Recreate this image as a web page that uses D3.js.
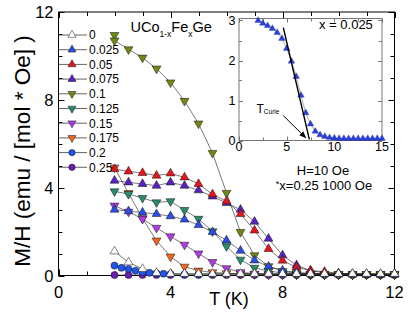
<!DOCTYPE html>
<html>
<head>
<meta charset="utf-8">
<script src="https://cdn.jsdelivr.net/npm/d3@7"></script>
<style>
body { margin: 0; background: #fff; }
svg { display: block; font-family: "Liberation Sans", Arial, Helvetica, sans-serif; }
</style>
</head>
<body>
<svg id="chart" width="415" height="318"></svg>
<script>
// temperatures (K)
const temps = [2,2.5,3,3.5,4,4.5,5,5.5,6,6.5,7,7.5,8,8.5,9,9.5,10,10.5,11,11.5,12];
const tempsX10 = [2,2,2.5,3,3.5,4,4.5,5,5.5,6,6.5,7,7.5,8,8.5,9,9.5,10,10.5,11,11.5,12];
const tempsX20 = [2,2.25,2.5,2.75,3,3.25,3.5,3.75,4,4.5,5,5.5,6,6.5,7,7.5,8,8.5,9,9.5,10,10.5,11,11.5,12];
const tempsInset = [2,2.5,3,3.5,4,4.5,5,5.5,6,6.5,7,7.5,8,8.5,9,9.5,10,10.5,11,11.5,12,12.5,13,13.5,14,14.5,15];

// M/H values per Fe content
const mX0   = [1.1,0.6,0.3,0.12,0.08,0.08,0.08,0.08,0.08,0.08,0.08,0.08,0.08,0.08,0.08,0.08,0.08,0.08,0.08,0.08,0.08];
const mX025 = [3.0,2.93,2.87,2.8,2.7,2.55,2.3,1.98,1.6,1.13,0.69,0.41,0.23,0.14,0.1,0.07,0.06,0.05,0.05,0.05,0.05,0.05,0.05,0.05,0.05,0.05,0.05];
const mX05  = [4.85,4.74,4.67,4.55,4.65,4.47,4.17,3.7,3.38,2.8,2.05,1.21,0.68,0.37,0.23,0.17,0.1,0.07,0.06,0.05,0.05];
const mX075 = [4.32,4.24,4.17,4.09,4.24,4.09,3.88,3.6,3.3,3.0,2.45,1.68,0.92,0.47,0.22,0.12,0.08,0.06,0.05,0.05,0.05];
const mX10  = [10.95,10.7,10.3,9.92,9.42,8.79,7.95,6.92,5.58,3.76,1.98,0.92,0.42,0.2,0.1,0.07,0.06,0.05,0.05,0.05,0.05,0.05];
const mX125 = [3.83,3.71,3.53,3.33,3.38,2.98,2.58,2.01,1.33,0.72,0.35,0.2,0.12,0.08,0.06,0.05,0.05,0.05,0.05,0.05,0.05];
const mX15  = [3.18,2.9,2.58,2.17,1.78,1.4,1.0,0.61,0.33,0.15,0.08,0.06,0.05,0.05,0.05,0.05,0.05,0.05,0.05,0.05,0.05];
const mX175 = [4.92,3.75,2.6,1.59,0.86,0.4,0.22,0.14,0.1,0.08,0.06,0.05,0.05,0.05,0.05,0.05,0.05,0.05,0.05,0.05,0.05];
const mX20  = [0.45,0.35,0.3,0.22,0.16,0.12,0.1,0.08,0.07,0.06,0.06,0.06,0.06,0.06,0.06,0.06,0.06,0.06,0.06,0.06,0.06,0.06,0.06,0.06,0.06];
const mX25  = [0.02,0.02,0.02,0.02,0.02,0.02,0.02,0.02,0.02,0.02,0.02,0.02,0.02,0.02,0.02,0.02,0.02,0.02,0.02,0.02,0.02];

const seriesLabels = ["0","0.025","0.05","0.075","0.1","0.125","0.15","0.175","0.2","0.25"];
const seriesColors = ["#ffffff","#2b4ee8","#e6161e","#5a22c0","#6e8a14","#2a8c6c","#b03ce6","#f0661e","#1f55e8","#6a1eb0"];
const seriesShapes = ["up","up","up","up","down","down","down","down","circle","circle"];
const seriesT = [temps, tempsInset, temps, temps, tempsX10, temps, temps, temps, tempsX20, temps];
const seriesM = [mX0, mX025, mX05, mX075, mX10, mX125, mX15, mX175, mX20, mX25];

// T_Curie construction line and arrow in inset (data units)
const curieLine = [[4.65, 2.82], [7.38, 0.03]];
const curieArrow = [[4.65, 0.62], [7.0, 0.07]];

const xTicks = [0,4,8,12];
const yTicks = [0,4,8,12];
const xInsetTicks = [0,5,10,15];
const yInsetTicks = [0,1,2,3];

const svg = d3.select("#chart");

const x = d3.scaleLinear().domain([0, 12]).range([58.5, 394.5]);
const y = d3.scaleLinear().domain([0, 12]).range([275.5, 12]);

const xi = d3.scaleLinear().domain([0, 15]).range([239, 382]);
const yi = d3.scaleLinear().domain([0, 3.05]).range([140.5, 18.5]);

function symbolPath(shape, size) {
    if (shape === "circle") return d3.symbol(d3.symbolCircle, size * 1.15)();
    return d3.symbol(d3.symbolTriangle, size)();
}

function drawAxes(g, xs, ys, xMajor, yMajor, xMinorStep, yMinorStep, majLen, minLen, col) {
    let [x0, x1] = xs.range();
    let [y0, y1] = ys.range();
    let xmin = xs.domain()[0], xmax = xs.domain()[1];
    let ymin = ys.domain()[0], ymax = ys.domain()[1];
    let ticks = g.append("g").attr("stroke", col).attr("stroke-width", 1);
    for (let v = xmin; v <= xmax + 1e-9; v += xMinorStep) {
        let len = xMajor.includes(+v.toFixed(3)) ? majLen : minLen;
        let px = Math.round(xs(v)) + 0.5;
        ticks.append("line").attr("x1", px).attr("x2", px).attr("y1", y0).attr("y2", y0 - len);
        ticks.append("line").attr("x1", px).attr("x2", px).attr("y1", y1).attr("y2", y1 + len);
    }
    for (let v = ymin; v <= ymax + 1e-9; v += yMinorStep) {
        let len = yMajor.includes(+v.toFixed(3)) ? majLen : minLen;
        let py = Math.round(ys(v)) + 0.5;
        ticks.append("line").attr("y1", py).attr("y2", py).attr("x1", x0).attr("x2", x0 + len);
        ticks.append("line").attr("y1", py).attr("y2", py).attr("x1", x1).attr("x2", x1 - len);
    }
    g.append("rect")
        .attr("x", x0).attr("y", y1)
        .attr("width", x1 - x0).attr("height", y0 - y1)
        .attr("fill", "none").attr("stroke", col).attr("stroke-width", 1);
}

// ---- main plot ----
const main = svg.append("g");
drawAxes(main, x, y, xTicks, yTicks, 1, 1, 6, 4, "#000");

main.selectAll(".xl").data(xTicks).enter().append("text")
    .attr("x", d => x(d)).attr("y", 298)
    .attr("text-anchor", "middle").attr("font-size", 16.5)
    .text(d => d);
main.selectAll(".yl").data(yTicks).enter().append("text")
    .attr("x", 53.5).attr("y", d => y(d) + 6)
    .attr("text-anchor", "end").attr("font-size", 16.5)
    .text(d => d);

svg.append("text")
    .attr("x", 229).attr("y", 304.5)
    .attr("text-anchor", "middle").attr("font-size", 18)
    .text("T (K)");

svg.append("text")
    .attr("transform", "translate(30,151) rotate(-90)")
    .attr("text-anchor", "middle").attr("font-size", 22.5)
    .text("M/H (emu / [mol * Oe] )");

const line = d3.line().x(d => x(d[0])).y(d => y(d[1]));

// connecting lines first, then markers
const series = seriesLabels.map((lab, i) => ({
    label: lab, color: seriesColors[i], shape: seriesShapes[i],
    pts: seriesT[i].map((t, j) => [t, seriesM[i][j]]).filter(p => p[0] <= 12)
}));

main.append("g").selectAll("path").data(series).enter().append("path")
    .attr("d", d => line(d.pts))
    .attr("fill", "none").attr("stroke", "#222").attr("stroke-width", 0.6);

series.slice().reverse().forEach(s => {
    main.append("g").selectAll("path").data(s.pts).enter().append("path")
        .attr("d", symbolPath(s.shape, 34))
        .attr("transform", p => `translate(${x(p[0])},${y(p[1])})` + (s.shape === "down" ? " rotate(180)" : ""))
        .attr("fill", s.color).attr("stroke", "#111").attr("stroke-width", 0.5);
});

// legend
const legend = svg.append("g");
series.forEach((s, i) => {
    let ly = 35 + i * 14.7;
    legend.append("line").attr("x1", 58.5).attr("x2", 87).attr("y1", ly).attr("y2", ly)
        .attr("stroke", "#222").attr("stroke-width", 0.7);
    legend.append("path")
        .attr("d", symbolPath(s.shape, 28))
        .attr("transform", `translate(72,${ly})` + (s.shape === "down" ? " rotate(180)" : ""))
        .attr("fill", s.color).attr("stroke", "#111").attr("stroke-width", 0.5);
    legend.append("text").attr("x", 89).attr("y", ly + 4.3)
        .attr("font-size", 12).text(s.label);
});

// title
const title = svg.append("text").attr("x", 130.5).attr("y", 31.7).attr("font-size", 14.5);
title.append("tspan").text("UCo");
title.append("tspan").attr("font-size", 8.5).attr("dy", 5).text("1-x");
title.append("tspan").attr("dy", -5).text("Fe");
title.append("tspan").attr("font-size", 8.5).attr("dy", 5).text("x");
title.append("tspan").attr("dy", -5).text("Ge");

// ---- inset ----
const inset = svg.append("g");
inset.append("rect").attr("x", xi(0)).attr("y", yi(3.05))
    .attr("width", xi(15) - xi(0)).attr("height", yi(0) - yi(3.05)).attr("fill", "#fff");
drawAxes(inset, xi, yi, xInsetTicks, yInsetTicks, 2.5, 0.5, 4, 3, "#777");

inset.selectAll(".xil").data(xInsetTicks).enter().append("text")
    .attr("x", d => xi(d)).attr("y", 151)
    .attr("text-anchor", "middle").attr("font-size", 12.5)
    .text(d => d);
inset.selectAll(".yil").data(yInsetTicks).enter().append("text")
    .attr("x", 235.5).attr("y", d => yi(d) + 4)
    .attr("text-anchor", "end").attr("font-size", 12.5)
    .text(d => d);

const insetPts = tempsInset.map((t, j) => [t, mX025[j]]);
const lineI = d3.line().x(d => xi(d[0])).y(d => yi(d[1]));
inset.append("path").attr("d", lineI(insetPts))
    .attr("fill", "none").attr("stroke", "#999").attr("stroke-width", 0.8);
inset.append("g").selectAll("path").data(insetPts).enter().append("path")
    .attr("d", symbolPath("up", 19))
    .attr("transform", p => `translate(${xi(p[0])},${yi(p[1])})`)
    .attr("fill", "#2a40e0").attr("stroke", "#1a2a80").attr("stroke-width", 0.3);

inset.append("path").attr("d", lineI(curieLine))
    .attr("stroke", "#000").attr("stroke-width", 1.4).attr("fill", "none");

svg.append("defs").append("marker")
    .attr("id", "arrow").attr("viewBox", "0 0 10 10")
    .attr("refX", 9).attr("refY", 5)
    .attr("markerWidth", 7).attr("markerHeight", 7)
    .attr("orient", "auto")
    .append("path").attr("d", "M0,1 L10,5 L0,9 z").attr("fill", "#000");

inset.append("path").attr("d", lineI(curieArrow))
    .attr("stroke", "#000").attr("stroke-width", 1).attr("fill", "none")
    .attr("marker-end", "url(#arrow)");

const tc = inset.append("text").attr("x", 256.5).attr("y", 112.5).attr("font-size", 12);
tc.append("tspan").text("T");
tc.append("tspan").attr("font-size", 6.5).attr("dy", 1.5).text("Curie");

inset.append("text").attr("x", 319).attr("y", 29.3).attr("font-size", 13).text("x = 0.025");

svg.append("text").attr("x", 323).attr("y", 175).attr("text-anchor", "middle")
    .attr("font-size", 13).text("H=10 Oe");
const note = svg.append("text").attr("x", 324).attr("y", 190).attr("text-anchor", "middle").attr("font-size", 13);
note.append("tspan").attr("font-size", 9).attr("dy", -3).text("*");
note.append("tspan").attr("dy", 3).text("x=0.25 1000 Oe");
</script>
</body>
</html>
